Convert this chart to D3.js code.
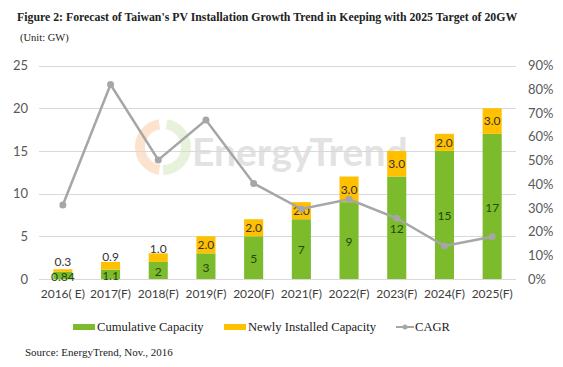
<!DOCTYPE html>
<html lang="en">
<head>
  <meta charset="UTF-8">
  <title>Taiwan PV Installation Forecast</title>
  <style>
    body { margin: 0; background: #ffffff; }
    svg { display: block; }
    .axis text { font-family: Lato, "Open Sans", sans-serif; font-size: 13px; fill: #595959; }
    .axis.cat text { font-size: 12px; fill: #404040; }
    .axis path, .axis line { display: none; }
    .grid line { stroke: #d9d9d9; stroke-width: 1; }
    .serif { font-family: "Liberation Serif", "DejaVu Serif", serif; fill: #222; }
  </style>
</head>
<body>
<svg id="chart" width="563" height="367"></svg>

<script src="https://cdn.jsdelivr.net/npm/d3@7/dist/d3.min.js"></script>
<script>
  "use strict";

  var years = ["2016( E)", "2017(F)", "2018(F)", "2019(F)", "2020(F)", "2021(F)", "2022(F)", "2023(F)", "2024(F)", "2025(F)"];
  var cumulative = [0.84, 1.1, 2, 3, 5, 7, 9, 12, 15, 17];
  var newlyInstalled = [0.3, 0.9, 1.0, 2.0, 2.0, 2.0, 3.0, 3.0, 2.0, 3.0];
  var cagr = [31.2, 82, 50.2, 67, 40.3, 29.5, 33.6, 25.6, 13.9, 17.8];
  var cumLabels = ["0.84", "1.1", "2", "3", "5", "7", "9", "12", "15", "17"];
  var newLabels = ["0.3", "0.9", "1.0", "2.0", "2.0", "2.0", "3.0", "3.0", "2.0", "3.0"];
  var leftTicks = [0, 5, 10, 15, 20, 25];
  var rightTicks = [0, 10, 20, 30, 40, 50, 60, 70, 80, 90];

  var green = "#7cbb2c", orange = "#ffc000", grey = "#a6a6a6";
  var svg = d3.select("#chart");
  var pLeft = 39, pRight = 516, pTop = 65.5, pBottom = 279;

  var x = d3.scaleBand().domain(years).range([pLeft, pRight]).paddingInner(0.6).paddingOuter(0.3);
  var y = d3.scaleLinear().domain([0, 25]).range([pBottom, pTop]);
  var y2 = d3.scaleLinear().domain([0, 90]).range([pBottom, pTop]);

  // watermark
  var wm = svg.append("g").attr("opacity", 0.3);
  var arc = d3.arc().innerRadius(18).outerRadius(28);
  wm.append("path").attr("transform", "translate(163,147)")
    .attr("d", arc({startAngle: -Math.PI * 0.95, endAngle: -Math.PI * 0.05})).attr("fill", "#f4a460");
  wm.append("path").attr("transform", "translate(163,147)")
    .attr("d", arc({startAngle: Math.PI * 0.05, endAngle: Math.PI * 1.0})).attr("fill", "#b5d68a");
  wm.append("text").attr("x", 192).attr("y", 166)
    .style("font-family", "Lato, sans-serif").style("font-size", "39px").style("font-weight", "bold")
    .attr("fill", "#a0a0a0").text("EnergyTrend");

  // gridlines
  svg.append("g").attr("class", "grid")
    .selectAll("line").data(leftTicks.slice(1)).enter().append("line")
    .attr("x1", pLeft).attr("x2", pRight)
    .attr("y1", function(d){ return Math.round(y(d)) + 0.5; })
    .attr("y2", function(d){ return Math.round(y(d)) + 0.5; });

  // axes
  svg.append("g").attr("class", "axis")
    .attr("transform", "translate(" + (pLeft - 11) + ",0)")
    .call(d3.axisLeft(y).tickValues(leftTicks).tickSize(0).tickPadding(0));
  svg.append("g").attr("class", "axis")
    .attr("transform", "translate(" + (pRight + 12) + ",0)")
    .call(d3.axisRight(y2).tickValues(rightTicks).tickSize(0).tickPadding(0)
      .tickFormat(function(d){ return d + "%"; }));
  svg.append("g").attr("class", "axis cat")
    .attr("transform", "translate(0," + (pBottom + 10) + ")")
    .call(d3.axisBottom(x).tickSize(0).tickPadding(0));

  // bars
  var bars = svg.append("g");
  bars.selectAll(".cum").data(cumulative).enter().append("rect")
    .attr("x", function(d, i){ return x(years[i]); })
    .attr("width", x.bandwidth())
    .attr("y", function(d){ return y(d); })
    .attr("height", function(d){ return pBottom - y(d); })
    .attr("fill", green);
  bars.selectAll(".new").data(newlyInstalled).enter().append("rect")
    .attr("x", function(d, i){ return x(years[i]); })
    .attr("width", x.bandwidth())
    .attr("y", function(d, i){ return y(cumulative[i] + d); })
    .attr("height", function(d, i){ return y(cumulative[i]) - y(cumulative[i] + d); })
    .attr("fill", orange);

  svg.append("line").attr("x1", pLeft).attr("x2", pRight)
    .attr("y1", pBottom + 0.5).attr("y2", pBottom + 0.5).attr("stroke", "#d9d9d9");

  // bar labels
  var lblFont = "Lato, sans-serif";
  svg.append("g").selectAll("text").data(cumulative).enter().append("text")
    .attr("x", function(d, i){ return x(years[i]) + x.bandwidth() / 2; })
    .attr("y", function(d){ return (y(d) + pBottom) / 2 + 1; })
    .attr("dy", "0.36em").attr("text-anchor", "middle")
    .style("font-family", lblFont).style("font-size", "12px").attr("fill", "#1f4a05")
    .text(function(d, i){ return cumLabels[i]; });
  svg.append("g").selectAll("text").data(newlyInstalled).enter().append("text")
    .attr("x", function(d, i){ return x(years[i]) + x.bandwidth() / 2; })
    .attr("y", function(d, i){
      var t = y(cumulative[i] + d), h = y(cumulative[i]) - t;
      return h >= 14 ? t + h / 2 : t - (14 - h) * 0.6 - 1;
    })
    .attr("dy", "0.36em").attr("text-anchor", "middle")
    .style("font-family", lblFont).style("font-size", "12px").attr("fill", "#333")
    .text(function(d, i){ return newLabels[i]; });

  // CAGR line
  var line = d3.line()
    .x(function(d, i){ return x(years[i]) + x.bandwidth() / 2; })
    .y(function(d){ return y2(d); });
  svg.append("path").datum(cagr).attr("d", line)
    .attr("fill", "none").attr("stroke", grey).attr("stroke-width", 2.5);
  svg.append("g").selectAll("circle").data(cagr).enter().append("circle")
    .attr("cx", function(d, i){ return x(years[i]) + x.bandwidth() / 2; })
    .attr("cy", function(d){ return y2(d); })
    .attr("r", 3.5).attr("fill", grey);

  // title
  var title = svg.append("text").attr("class", "serif").attr("x", 17).attr("y", 21)
    .style("font-size", "14px").style("font-weight", "bold")
    .text("Figure 2: Forecast of Taiwan's PV Installation Growth Trend in Keeping with 2025 Target of 20GW");
  var tw = title.node().getComputedTextLength();
  title.style("font-size", (14 * 501 / tw) + "px");
  svg.append("text").attr("class", "serif").attr("x", 20).attr("y", 41)
    .style("font-size", "10.5px").text("(Unit: GW)");

  // legend
  var lg = svg.append("g").attr("class", "serif").style("font-size", "12.6px");
  lg.append("rect").attr("x", 73).attr("y", 324).attr("width", 22).attr("height", 6).attr("fill", green);
  lg.append("text").attr("x", 97).attr("y", 331).text("Cumulative Capacity");
  lg.append("rect").attr("x", 224).attr("y", 324).attr("width", 22).attr("height", 6).attr("fill", orange);
  lg.append("text").attr("x", 248).attr("y", 331).text("Newly Installed Capacity");
  lg.append("line").attr("x1", 396).attr("x2", 414).attr("y1", 327).attr("y2", 327)
    .attr("stroke", grey).attr("stroke-width", 2);
  lg.append("circle").attr("cx", 405).attr("cy", 327).attr("r", 2.5).attr("fill", grey);
  lg.append("text").attr("x", 415).attr("y", 331).text("CAGR");

  svg.append("text").attr("class", "serif").attr("x", 25).attr("y", 356)
    .style("font-size", "11px").text("Source: EnergyTrend, Nov., 2016");
</script>
</body>
</html>
